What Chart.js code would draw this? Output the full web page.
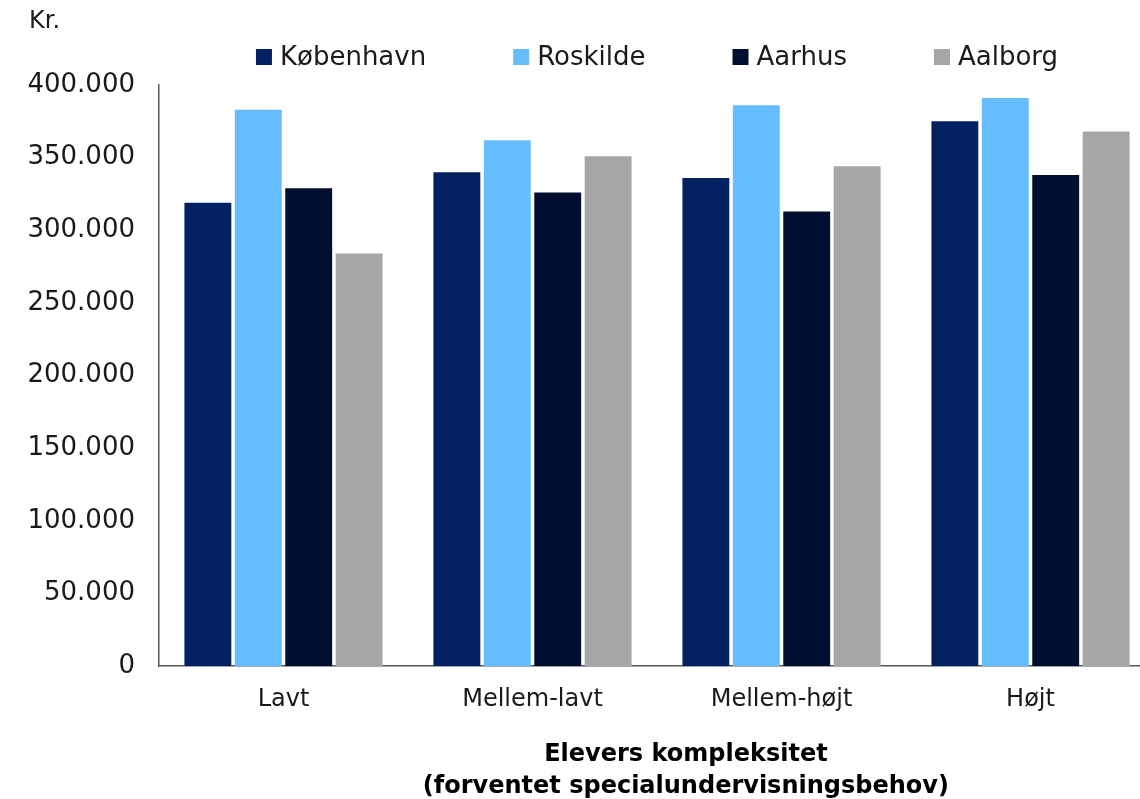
<!DOCTYPE html>
<html>
<head>
<meta charset="utf-8">
<script src="https://cdn.jsdelivr.net/npm/chart.js@4"></script>
<style>
html,body{margin:0;padding:0;background:#fff;overflow:hidden;}
#wrap{position:relative;width:1155px;height:799px;}
</style>
</head>
<body>
<div id="wrap"><canvas id="c"></canvas></div>
<script>
const categories = ['Lavt', 'Mellem-lavt', 'Mellem-højt', 'Højt'];
const seriesNames = ['København', 'Roskilde', 'Aarhus', 'Aalborg'];
const kobenhavn = [319000, 340000, 336000, 375000];
const roskilde  = [383000, 362000, 386000, 391000];
const aarhus    = [329000, 326000, 313000, 338000];
const aalborg   = [284000, 351000, 344000, 368000];
const yTicks = [0, 50000, 100000, 150000, 200000, 250000, 300000, 350000, 400000];
const colors = ['#022160', '#66BDFD', '#000E2F', '#A6A6A6'];
const yUnit = 'Kr.';
const xTitle = ['Elevers kompleksitet', '(forventet specialundervisningsbehov)'];

const FONT = '"DejaVu Sans", sans-serif';
const TEXT = '#1a1a1a';
function fmt(v){ return String(v).replace(/\B(?=(\d{3})+(?!\d))/g, '.'); }

// unit label above the y axis and x-axis title below the category labels
const textPlugin = {
  id: 'axisTexts',
  afterDraw(chart){
    const ctx = chart.ctx;
    const ca = chart.chartArea;
    ctx.save();
    ctx.font = '24px ' + FONT;
    ctx.fillStyle = TEXT;
    ctx.textAlign = 'left';
    ctx.textBaseline = 'middle';
    ctx.fillText(yUnit, 29, 22);
    ctx.font = 'bold 24px ' + FONT;
    ctx.fillStyle = '#000';
    ctx.textAlign = 'center';
    const cx = ca.left + (ca.right - ca.left) * 0.529;
    xTitle.forEach((line, i) => ctx.fillText(line, cx, ca.bottom + 89 + i * 32));
    ctx.restore();
  }
};

// legend drawn from the chart's datasets, centred over the chart area
const legendPlugin = {
  id: 'topLegend',
  afterDraw(chart){
    const ctx = chart.ctx;
    const box = 16, gapText = 8, gapItem = 87, yMid = 57;
    ctx.save();
    ctx.font = '26px ' + FONT;
    const items = chart.data.datasets.map(ds => ({ label: ds.label, color: ds.backgroundColor, w: ctx.measureText(ds.label).width }));
    const total = items.reduce((s, it) => s + box + gapText + it.w, 0) + gapItem * (items.length - 1);
    const ca = chart.chartArea;
    let x = (ca.left + ca.right) / 2 - total / 2;
    ctx.textBaseline = 'middle';
    ctx.textAlign = 'left';
    items.forEach(it => {
      ctx.fillStyle = it.color;
      ctx.fillRect(x, yMid - box / 2, box, box);
      ctx.fillStyle = TEXT;
      ctx.fillText(it.label, x + box + gapText, yMid + 1);
      x += box + gapText + it.w + gapItem;
    });
    ctx.restore();
  }
};

const data = {
  labels: categories,
  datasets: [kobenhavn, roskilde, aarhus, aalborg].map((d, i) => ({
    label: seriesNames[i],
    data: d,
    backgroundColor: colors[i],
    borderWidth: 0,
    categoryPercentage: 0.81,
    barPercentage: 0.93
  }))
};

new Chart(document.getElementById('c'), {
  type: 'bar',
  data: data,
  plugins: [textPlugin, legendPlugin],
  options: {
    responsive: true,
    maintainAspectRatio: false,
    animation: false,
    layout: { padding: { top: 85, left: 0, right: 0, bottom: 66 } },
    plugins: {
      legend: { display: false },
      tooltip: { enabled: false }
    },
    scales: {
      x: {
        grid: { display: false, drawTicks: false },
        border: { display: true, color: '#595959', width: 1.5 },
        ticks: { color: TEXT, font: { family: FONT, size: 24 }, padding: 19 }
      },
      y: {
        min: 0, max: 400000,
        afterFit(scale){ scale.width = 159; },
        afterBuildTicks(scale){ scale.ticks = yTicks.map(v => ({ value: v })); },
        grid: { display: false, drawTicks: false },
        border: { display: true, color: '#595959', width: 1.5 },
        ticks: { color: TEXT, font: { family: FONT, size: 26 }, padding: 24, callback: v => fmt(v) }
      }
    }
  }
});
</script>
</body>
</html>
